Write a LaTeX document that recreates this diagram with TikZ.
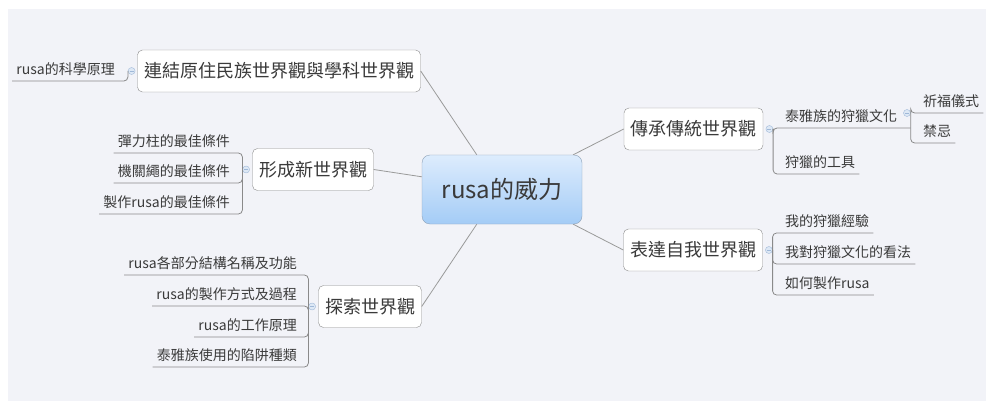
\documentclass[tikz,border=0pt]{standalone}
\usepackage{fontspec}
\setmainfont{Noto Sans CJK TC}
\usetikzlibrary{positioning}
\definecolor{bgcol}{HTML}{F2F3F8}
\definecolor{txtcol}{HTML}{3A3A3A}
\definecolor{boxcol}{HTML}{8C8C8C}
\definecolor{rootcol}{HTML}{8EA2B8}
\definecolor{roottop}{HTML}{DDECFD}
\definecolor{rootbot}{HTML}{A4CCF6}
\definecolor{linecol}{HTML}{9A9A9A}
\definecolor{sublinecol}{HTML}{8A8A8A}
\definecolor{mkline}{HTML}{9FB8D8}
\definecolor{mkfill}{HTML}{DDE8F5}

\begin{document}
\begin{tikzpicture}[x=1pt, y=-1pt]
        \tikzstyle{every node}=[text=txtcol]
        \tikzstyle{topic}=[draw=boxcol, fill=white, rounded corners=5pt, inner xsep=6.5pt, minimum height=42pt, font=\fontsize{18}{20}\selectfont]
        \tikzstyle{central}=[draw=rootcol, rounded corners=8pt, top color=roottop, bottom color=rootbot, minimum width=160pt, minimum height=69pt, font=\fontsize{24}{26}\selectfont]
        \tikzstyle{sub}=[inner xsep=4pt, inner ysep=0pt, minimum height=24pt, font=\fontsize{14}{16}\selectfont]
        \tikzstyle{marker}=[circle, draw=mkline, fill=mkfill, minimum size=7pt, inner sep=0pt, path picture={\draw[mkline, line width=0.6pt] ([xshift=-2pt]path picture bounding box.center) -- ([xshift=2pt]path picture bounding box.center);}]
        \tikzstyle{trunk}=[draw=linecol, line width=0.8pt]
        \tikzstyle{branch}=[draw=sublinecol, line width=0.8pt, rounded corners=4pt]
        \useasboundingbox (0,0) rectangle (986,401);
        \fill[bgcol] (8,9) rectangle (986,401);
        % centre and main topics
        \node [central] (root) at (502,189.5) {rusa的威力};
        \node [topic] (t1) at (279,71) {連結原住民族世界觀與學科世界觀};
        \node [topic] (t2) at (313,169.5) {形成新世界觀};
        \node [topic] (t3) at (370,306.5) {探索世界觀};
        \node [topic] (t4) at (693.5,129) {傳承傳統世界觀};
        \node [topic] (t5) at (693,250) {表達自我世界觀};
        \draw [trunk] (root.126) -- (t1.east);
        \draw [trunk] (root.171) -- (t2.east);
        \draw [trunk] (root.234) -- (t3.east);
        \draw [trunk] (root.26) -- (t4.west);
        \draw [trunk] (root.334) -- (t5.west);
        % collapse markers
        \node [marker, left=2pt of t1] (m1) {};
        \node [marker, left=2.5pt of t2] (m2) {};
        \node [marker, left=2.5pt of t3] (m3) {};
        \node [marker, right=2.5pt of t4] (m4) {};
        \node [marker, right=2.5pt of t5] (m5) {};
        \node [marker] (m41) at (907,113) {};
        % left side
        \node [sub, anchor=south east] (c11) at (119,81) {rusa的科學原理};
        \node [sub, anchor=south east] (c21) at (234,153) {彈力柱的最佳條件};
        \node [sub, anchor=south east] (c22) at (234,183) {機關繩的最佳條件};
        \node [sub, anchor=south east] (c23) at (234,214) {製作rusa的最佳條件};
        \node [sub, anchor=south east] (c31) at (301,275) {rusa各部分結構名稱及功能};
        \node [sub, anchor=south east] (c32) at (301,306) {rusa的製作方式及過程};
        \node [sub, anchor=south east] (c33) at (301,337) {rusa的工作原理};
        \node [sub, anchor=south east] (c34) at (301,367) {泰雅族使用的陷阱種類};
        \draw [branch] (m1.west) |- (c11.south west);
        \foreach \c in {c21,c22,c23} \draw [branch] (m2.west) |- (\c.south west);
        \foreach \c in {c31,c32,c33,c34} \draw [branch] (m3.west) |- (\c.south west);
        % right side
        \node [sub, anchor=south west] (c41) at (781,128) {泰雅族的狩獵文化};
        \node [sub, anchor=south west] (c42) at (781,174) {狩獵的工具};
        \node [sub, anchor=south west] (c411) at (919,113) {祈福儀式};
        \node [sub, anchor=south west] (c412) at (919,143) {禁忌};
        \node [sub, anchor=south west] (c51) at (781,233) {我的狩獵經驗};
        \node [sub, anchor=south west] (c52) at (781,264) {我對狩獵文化的看法};
        \node [sub, anchor=south west] (c53) at (781,295) {如何製作rusa};
        \draw [branch] (m4.east) |- (c41.south -| m41.east);
        \draw [branch] (m4.east) |- (c42.south east);
        \foreach \c in {c411,c412} \draw [branch] (m41.east) |- (\c.south east);
        \foreach \c in {c51,c52,c53} \draw [branch] (m5.east) |- (\c.south east);
    \end{tikzpicture}
\end{document}
